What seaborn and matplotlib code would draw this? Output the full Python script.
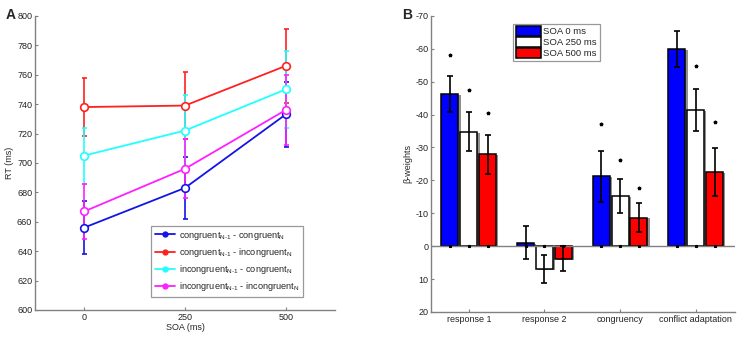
import numpy as np
import pandas as pd
import matplotlib
matplotlib.use('Agg')
import matplotlib.pyplot as plt
import matplotlib.patheffects as pe
from matplotlib.lines import Line2D
from matplotlib.patches import Patch
import seaborn as sns

# Panel A: mean RT per SOA and trial sequence
soa = [0, 250, 500]
rt_cc = [656, 683, 733]
err_cc = [18, 21, 22]
rt_ci = [738, 739, 766]
err_ci = [20, 23, 25]
rt_ic = [705, 722, 750]
err_ic = [19, 24, 26]
rt_ii = [667, 696, 736]
err_ii = [19, 20, 24]
seq_labels = [r'congruent$_{\mathrm{N\text{-}1}}$ - congruent$_{\mathrm{N}}$',
              r'congruent$_{\mathrm{N\text{-}1}}$ - incongruent$_{\mathrm{N}}$',
              r'incongruent$_{\mathrm{N\text{-}1}}$ - congruent$_{\mathrm{N}}$',
              r'incongruent$_{\mathrm{N\text{-}1}}$ - incongruent$_{\mathrm{N}}$']
seq_colors = ['#1414e6', '#ff2020', '#20ffff', '#ff20ff']

# Panel B: beta weights
predictors = ['response 1', 'response 2', 'congruency', 'conflict adaptation']
soa_levels = ['SOA 0 ms', 'SOA 250 ms', 'SOA 500 ms']
beta_0 = [-46.3, -1.0, -21.2, -60.0]
se_0 = [5.5, 5.0, 7.7, 5.4]
beta_250 = [-34.8, 6.9, -15.3, -41.3]
se_250 = [6.0, 4.3, 5.2, 6.4]
beta_500 = [-27.9, 3.8, -8.7, -22.6]
se_500 = [6.0, 3.8, 4.3, 7.3]
star_0 = [-58.0, np.nan, -37.0, -71.6]
star_250 = [-47.4, np.nan, -26.2, -54.7]
star_500 = [-40.5, np.nan, -17.6, -37.7]
bar_colors = ['#0000ff', '#ffffff', '#ff0000']

sns.set_style('white')
plt.rcParams['font.family'] = ['Liberation Sans', 'DejaVu Sans']
plt.rcParams['mathtext.fontset'] = 'custom'
plt.rcParams['mathtext.rm'] = 'Liberation Sans'
plt.rcParams['axes.unicode_minus'] = False

axis_gray = '#808080'
fs = 6.5

fig = plt.figure(figsize=(7.37, 3.38), dpi=100)
axA = fig.add_axes([0.0475, 0.083, 0.407, 0.870])
axB = fig.add_axes([0.5848, 0.077, 0.4125, 0.876])

# ---- Panel A ----
rts = [rt_cc, rt_ci, rt_ic, rt_ii]
errs = [err_cc, err_ci, err_ic, err_ii]
dfA = pd.DataFrame({
    'soa': soa * 4,
    'rt': sum(rts, []),
    'err': sum(errs, []),
    'seq': [lab for lab in seq_labels for _ in soa],
})
sns.lineplot(data=dfA, x='soa', y='rt', hue='seq', hue_order=seq_labels,
             palette=seq_colors, marker='o', markersize=5.5,
             linewidth=1.3, legend=False, ax=axA, zorder=3)
for ln in axA.lines:
    ln.set_markerfacecolor('white')
    ln.set_markeredgecolor(ln.get_color())
    ln.set_markeredgewidth(1.2)
for lab, col in zip(seq_labels, seq_colors):
    sub = dfA[dfA['seq'] == lab]
    axA.errorbar(sub['soa'], sub['rt'], yerr=sub['err'], fmt='none', ecolor=col,
                 elinewidth=1.2, capsize=1.8, capthick=1.2, zorder=2)

axA.set_xlim(-122, 622)
axA.set_ylim(600, 800)
axA.set_xticks(soa)
axA.set_yticks(np.arange(600, 801, 20))
axA.set_xlabel('SOA (ms)', fontsize=fs, labelpad=1)
axA.set_ylabel('RT (ms)', fontsize=fs, labelpad=2)
handles = [Line2D([0], [0], color=c, marker='o', markersize=3.5, linewidth=1.3)
           for c in seq_colors]
legA = axA.legend(handles, seq_labels, loc='lower left', bbox_to_anchor=(0.37, 0.028),
                  fontsize=6.6, frameon=True, fancybox=False, borderpad=0.45,
                  handlelength=2.2, labelspacing=0.45, handletextpad=0.4)
legA.get_frame().set_edgecolor(axis_gray)
legA.get_frame().set_linewidth(0.9)

# ---- Panel B ----
dfB = pd.DataFrame({
    'predictor': predictors * 3,
    'beta': beta_0 + beta_250 + beta_500,
    'se': se_0 + se_250 + se_500,
    'star': star_0 + star_250 + star_500,
    'soa': [lev for lev in soa_levels for _ in predictors],
})
sns.barplot(data=dfB, x='predictor', y='beta', hue='soa', hue_order=soa_levels,
            order=predictors, palette=bar_colors, saturation=1, errorbar=None,
            width=0.75, gap=0.1, edgecolor='black', linewidth=1.1, legend=False,
            ax=axB, zorder=2)
shadow = [pe.SimplePatchShadow(offset=(1.6, -0.6), shadow_rgbFace='#909090', alpha=1.0),
          pe.Normal()]
for lev, cont in zip(soa_levels, axB.containers):
    sub = dfB[dfB['soa'] == lev]
    xs = [b.get_x() + b.get_width() / 2 for b in cont]
    for b in cont:
        b.set_path_effects(shadow)
    axB.errorbar(xs, sub['beta'], yerr=sub['se'], fmt='none', ecolor='black',
                 elinewidth=1.2, capsize=2.2, capthick=1.2, zorder=4)
    axB.plot(xs, sub['star'], linestyle='none', marker='*', markersize=2.5,
             color='black', zorder=4)
    axB.plot(xs, [0] * len(xs), linestyle='none', marker='*', markersize=2,
             color='black', zorder=4)

axB.axhline(0, color=axis_gray, linewidth=1.0, zorder=3)
axB.set_xlim(-0.5, 3.52)
axB.set_ylim(20, -70)
axB.set_yticks(np.arange(-70, 21, 10))
axB.set_xlabel('')
axB.set_ylabel('β-weights', fontsize=fs, labelpad=2)
handlesB = [Patch(facecolor=c, edgecolor='black', linewidth=1.1) for c in bar_colors]
legB = axB.legend(handlesB, soa_levels, loc='upper left', bbox_to_anchor=(0.255, 0.99),
                  fontsize=6.8, frameon=True, fancybox=False, borderpad=0.3,
                  handlelength=2.6, handleheight=1.2, labelspacing=0.1,
                  handletextpad=0.3)
legB.get_frame().set_edgecolor(axis_gray)
legB.get_frame().set_linewidth(0.9)

for ax in (axA, axB):
    for side in ('top', 'right'):
        ax.spines[side].set_visible(False)
    for side in ('left', 'bottom'):
        ax.spines[side].set_color(axis_gray)
        ax.spines[side].set_linewidth(1.0)
    ax.tick_params(direction='in', length=2.5, width=0.8, color=axis_gray,
                   labelsize=fs, labelcolor='#222222', pad=2)
    ax.tick_params(axis='y', left=True)
    ax.tick_params(axis='x', bottom=True)

fig.text(0.008, 0.955, 'A', fontsize=10, fontweight='bold', va='center')
fig.text(0.545, 0.955, 'B', fontsize=10, fontweight='bold', va='center')

fig.savefig('out.png', dpi=100)
